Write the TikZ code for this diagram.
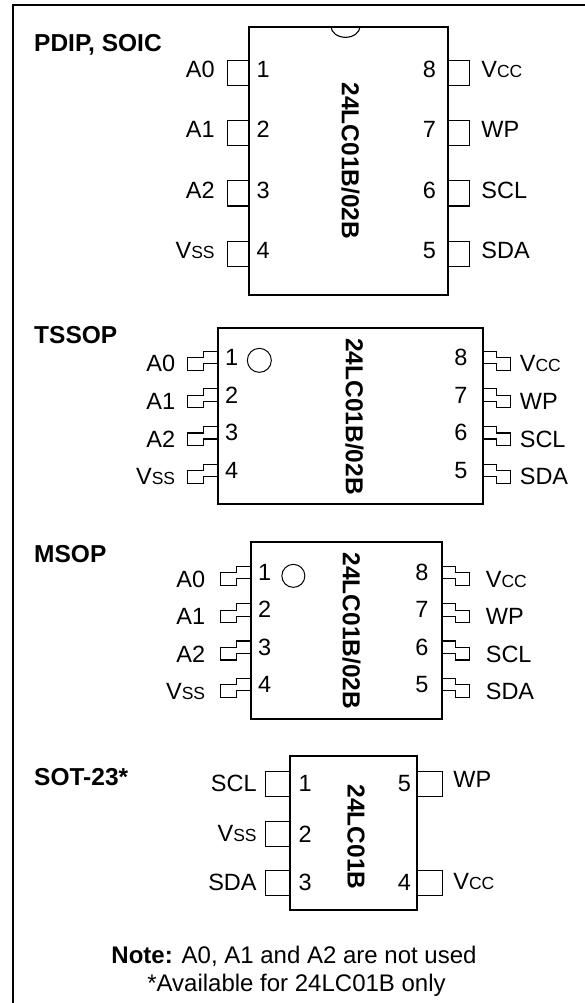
\documentclass[tikz,border=0pt]{standalone}
\usepackage{fontspec}
\setmainfont{Liberation Sans}
\usepackage{tikz}
\usetikzlibrary{positioning, calc}

\newcommand{\pinfont}{\fontsize{23.5}{27}\selectfont}
\newcommand{\boldfont}{\fontsize{24.5}{28}\selectfont\bfseries}
\newcommand{\subcap}[1]{{\fontsize{17.5}{17.5}\selectfont #1}}

\tikzstyle{chip} = [rectangle, draw=black, line width=1.3pt, inner sep=0pt]
\tikzstyle{stub} = [rectangle, draw=black, line width=1.1pt, minimum width=21pt, minimum height=25pt, inner sep=0pt]
\tikzstyle{pinname} = [font=\pinfont, inner sep=0pt]
\tikzstyle{pinnum} = [font=\pinfont, inner sep=0pt]
\tikzstyle{partname} = [font=\boldfont, rotate=-90, inner sep=0pt]
\tikzstyle{pkgname} = [font=\boldfont, anchor=base west, inner sep=0pt]
\tikzstyle{dot} = [circle, draw=black, line width=1pt, inner sep=0pt]
\tikzstyle{lead} = [line width=1.1pt]

% gull wing leads, drawn from the top corner at the body edge
\newcommand{\leadwest}[1]{\draw [lead] (#1) -- ++(-14,0) -- ++(0,6.5) -- ++(-16,0) -- ++(0,12.5) -- ++(16,0) -- ++(0,-6.5) -- ++(14,0);}
\newcommand{\leadeast}[1]{\draw [lead] (#1) -- ++(13,0) -- ++(0,6.5) -- ++(14,0) -- ++(0,12.5) -- ++(-14,0) -- ++(0,-6.5) -- ++(-13,0);}

\begin{document}
\begin{tikzpicture}[x=1pt, y=-1pt, node distance=10pt, align=center]

	\useasboundingbox (0,0) rectangle (585,1003);

	% Frame
	\draw [line width=2pt] (13,1003) |- (585,5);

	% PDIP, SOIC
	\node (pdip_title) [pkgname] at (34,52) {PDIP, SOIC};
	\node (pdip) [chip, minimum width=199pt, minimum height=268pt] at (348.5,161) {};
	\draw [lead] ($(pdip.north)+(-17.5,0)$) arc[start angle=180, end angle=360, x radius=14.5pt, y radius=11pt];
	\node (pdip_name) [partname] at ($(pdip)+(2,0)$) {24LC01B/02B};

	\node (pdip_pin1) [stub] at ($(pdip.north west)+(-10.5,46.5)$) {};
	\node (pdip_pin2) [stub] at ($(pdip.north west)+(-10.5,106.8)$) {};
	\node (pdip_pin3) [stub] at ($(pdip.north west)+(-10.5,167.1)$) {};
	\node (pdip_pin4) [stub] at ($(pdip.north west)+(-10.5,227.4)$) {};
	\node (pdip_pin8) [stub] at ($(pdip.north east)+(10.5,46.5)$) {};
	\node (pdip_pin7) [stub] at ($(pdip.north east)+(10.5,106.8)$) {};
	\node (pdip_pin6) [stub] at ($(pdip.north east)+(10.5,167.1)$) {};
	\node (pdip_pin5) [stub] at ($(pdip.north east)+(10.5,227.4)$) {};
	% -
	\node (pdip_A0) [pinname, left=12pt of pdip_pin1, yshift=3.5pt] {A0};
	\node (pdip_A1) [pinname, left=12pt of pdip_pin2, yshift=3.5pt] {A1};
	\node (pdip_A2) [pinname, left=12pt of pdip_pin3, yshift=3.5pt] {A2};
	\node (pdip_Vss) [pinname, left=12pt of pdip_pin4, yshift=3.5pt] {V\subcap{SS}};
	\node (pdip_Vcc) [pinname, right=11pt of pdip_pin8, yshift=3.5pt] {V\subcap{CC}};
	\node (pdip_WP) [pinname, right=11pt of pdip_pin7, yshift=3.5pt] {WP};
	\node (pdip_SCL) [pinname, right=11pt of pdip_pin6, yshift=3.5pt] {SCL};
	\node (pdip_SDA) [pinname, right=11pt of pdip_pin5, yshift=3.5pt] {SDA};
	% -
	\node (pdip_n1) [pinnum, right=7.5pt of pdip_pin1, yshift=3.5pt] {1};
	\node (pdip_n2) [pinnum, right=7.5pt of pdip_pin2, yshift=3.5pt] {2};
	\node (pdip_n3) [pinnum, right=7.5pt of pdip_pin3, yshift=3.5pt] {3};
	\node (pdip_n4) [pinnum, right=7.5pt of pdip_pin4, yshift=3.5pt] {4};
	\node (pdip_n8) [pinnum, left=12pt of pdip_pin8, yshift=3.5pt] {8};
	\node (pdip_n7) [pinnum, left=12pt of pdip_pin7, yshift=3.5pt] {7};
	\node (pdip_n6) [pinnum, left=12pt of pdip_pin6, yshift=3.5pt] {6};
	\node (pdip_n5) [pinnum, left=12pt of pdip_pin5, yshift=3.5pt] {5};

	% TSSOP
	\node (tssop_title) [pkgname] at (34,343) {TSSOP};
	\node (tssop) [chip, minimum width=265pt, minimum height=176pt] at (350.5,416) {};
	\node (tssop_dot) [dot, minimum size=24pt] at ($(tssop.north west)+(42,33)$) {};
	\node (tssop_name) [partname] at ($(tssop)+(4,0.5)$) {24LC01B/02B};

	\coordinate (tssop_l1) at ($(tssop.north west)+(0,23.7)$);
	\coordinate (tssop_l2) at ($(tssop.north west)+(0,61.4)$);
	\coordinate (tssop_l3) at ($(tssop.north west)+(0,99.1)$);
	\coordinate (tssop_l4) at ($(tssop.north west)+(0,136.8)$);
	\coordinate (tssop_r8) at ($(tssop.north east)+(0,23.7)$);
	\coordinate (tssop_r7) at ($(tssop.north east)+(0,61.4)$);
	\coordinate (tssop_r6) at ($(tssop.north east)+(0,99.1)$);
	\coordinate (tssop_r5) at ($(tssop.north east)+(0,136.8)$);
	\leadwest{tssop_l1} \leadwest{tssop_l2} \leadwest{tssop_l3} \leadwest{tssop_l4}
	\leadeast{tssop_r8} \leadeast{tssop_r7} \leadeast{tssop_r6} \leadeast{tssop_r5}
	% -
	\node (tssop_A0) [pinname, anchor=east] at ($(tssop_l1)+(-42,12.5)$) {A0};
	\node (tssop_A1) [pinname, anchor=east] at ($(tssop_l2)+(-42,12.5)$) {A1};
	\node (tssop_A2) [pinname, anchor=east] at ($(tssop_l3)+(-42,12.5)$) {A2};
	\node (tssop_Vss) [pinname, anchor=east] at ($(tssop_l4)+(-42,12.5)$) {V\subcap{SS}};
	\node (tssop_Vcc) [pinname, anchor=west] at ($(tssop_r8)+(36,12.5)$) {V\subcap{CC}};
	\node (tssop_WP) [pinname, anchor=west] at ($(tssop_r7)+(36,12.5)$) {WP};
	\node (tssop_SCL) [pinname, anchor=west] at ($(tssop_r6)+(36,12.5)$) {SCL};
	\node (tssop_SDA) [pinname, anchor=west] at ($(tssop_r5)+(36,12.5)$) {SDA};
	% -
	\node (tssop_n1) [pinnum, anchor=west] at ($(tssop_l1)+(7.5,6.3)$) {1};
	\node (tssop_n2) [pinnum, anchor=west] at ($(tssop_l2)+(7.5,6.3)$) {2};
	\node (tssop_n3) [pinnum, anchor=west] at ($(tssop_l3)+(7.5,6.3)$) {3};
	\node (tssop_n4) [pinnum, anchor=west] at ($(tssop_l4)+(7.5,6.3)$) {4};
	\node (tssop_n8) [pinnum, anchor=east] at ($(tssop_r8)+(-16,6.3)$) {8};
	\node (tssop_n7) [pinnum, anchor=east] at ($(tssop_r7)+(-16,6.3)$) {7};
	\node (tssop_n6) [pinnum, anchor=east] at ($(tssop_r6)+(-16,6.3)$) {6};
	\node (tssop_n5) [pinnum, anchor=east] at ($(tssop_r5)+(-16,6.3)$) {5};

	% MSOP
	\node (msop_title) [pkgname] at (34,562) {MSOP};
	\node (msop) [chip, minimum width=191pt, minimum height=177pt] at (346.5,630.5) {};
	\node (msop_dot) [dot, minimum size=23pt] at ($(msop.north west)+(43,34.5)$) {};
	\node (msop_name) [partname] at ($(msop)+(5,0.5)$) {24LC01B/02B};

	\coordinate (msop_l1) at ($(msop.north west)+(0,25)$);
	\coordinate (msop_l2) at ($(msop.north west)+(0,62.3)$);
	\coordinate (msop_l3) at ($(msop.north west)+(0,99.6)$);
	\coordinate (msop_l4) at ($(msop.north west)+(0,136.9)$);
	\coordinate (msop_r8) at ($(msop.north east)+(0,25)$);
	\coordinate (msop_r7) at ($(msop.north east)+(0,62.3)$);
	\coordinate (msop_r6) at ($(msop.north east)+(0,99.6)$);
	\coordinate (msop_r5) at ($(msop.north east)+(0,136.9)$);
	\leadwest{msop_l1} \leadwest{msop_l2} \leadwest{msop_l3} \leadwest{msop_l4}
	\leadeast{msop_r8} \leadeast{msop_r7} \leadeast{msop_r6} \leadeast{msop_r5}
	% -
	\node (msop_A0) [pinname, anchor=east] at ($(msop_l1)+(-45,13)$) {A0};
	\node (msop_A1) [pinname, anchor=east] at ($(msop_l2)+(-45,13)$) {A1};
	\node (msop_A2) [pinname, anchor=east] at ($(msop_l3)+(-45,13)$) {A2};
	\node (msop_Vss) [pinname, anchor=east] at ($(msop_l4)+(-45,13)$) {V\subcap{SS}};
	\node (msop_Vcc) [pinname, anchor=west] at ($(msop_r8)+(43,13)$) {V\subcap{CC}};
	\node (msop_WP) [pinname, anchor=west] at ($(msop_r7)+(43,13)$) {WP};
	\node (msop_SCL) [pinname, anchor=west] at ($(msop_r6)+(43,13)$) {SCL};
	\node (msop_SDA) [pinname, anchor=west] at ($(msop_r5)+(43,13)$) {SDA};
	% -
	\node (msop_n1) [pinnum, anchor=west] at ($(msop_l1)+(7.5,6)$) {1};
	\node (msop_n2) [pinnum, anchor=west] at ($(msop_l2)+(7.5,6)$) {2};
	\node (msop_n3) [pinnum, anchor=west] at ($(msop_l3)+(7.5,6)$) {3};
	\node (msop_n4) [pinnum, anchor=west] at ($(msop_l4)+(7.5,6)$) {4};
	\node (msop_n8) [pinnum, anchor=east] at ($(msop_r8)+(-14,6)$) {8};
	\node (msop_n7) [pinnum, anchor=east] at ($(msop_r7)+(-14,6)$) {7};
	\node (msop_n6) [pinnum, anchor=east] at ($(msop_r6)+(-14,6)$) {6};
	\node (msop_n5) [pinnum, anchor=east] at ($(msop_r5)+(-14,6)$) {5};

	% SOT-23
	\node (sot_title) [pkgname] at (34,785) {SOT-23*};
	\node (sot) [chip, minimum width=127pt, minimum height=154pt] at (353.5,833) {};
	\node (sot_name) [partname] at ($(sot)+(2.5,4)$) {24LC01B};

	\node (sot_pin1) [stub, minimum width=24pt] at ($(sot.north west)+(-12,28.5)$) {};
	\node (sot_pin2) [stub, minimum width=24pt] at ($(sot.north west)+(-12,78.5)$) {};
	\node (sot_pin3) [stub, minimum width=24pt] at ($(sot.north west)+(-12,127.5)$) {};
	\node (sot_pin5) [stub, minimum width=25pt] at ($(sot.north east)+(12.5,28.5)$) {};
	\node (sot_pin4) [stub, minimum width=25pt] at ($(sot.north east)+(12.5,127.5)$) {};
	% -
	\node (sot_SCL) [pinname, left=8pt of sot_pin1] {SCL};
	\node (sot_Vss) [pinname, left=8pt of sot_pin2] {V\subcap{SS}};
	\node (sot_SDA) [pinname, left=8pt of sot_pin3] {SDA};
	\node (sot_WP) [pinname, right=10pt of sot_pin5, yshift=4pt] {WP};
	\node (sot_Vcc) [pinname, right=10pt of sot_pin4, yshift=1.5pt] {V\subcap{CC}};
	% -
	\node (sot_n1) [pinnum, right=8.5pt of sot_pin1] {1};
	\node (sot_n2) [pinnum, right=8.5pt of sot_pin2] {2};
	\node (sot_n3) [pinnum, right=8.5pt of sot_pin3] {3};
	\node (sot_n5) [pinnum, left=6pt of sot_pin5] {5};
	\node (sot_n4) [pinnum, left=6pt of sot_pin4] {4};

	% Note
	\node (note) [pinname, anchor=base, font=\fontsize{24}{28}\selectfont] at (294,963) {\textbf{Note:} A0, A1 and A2 are not used};
	\node (avail) [pinname, anchor=base, font=\fontsize{24}{28}\selectfont] at (296.5,991) {*Available for 24LC01B only};

\end{tikzpicture}
\end{document}
